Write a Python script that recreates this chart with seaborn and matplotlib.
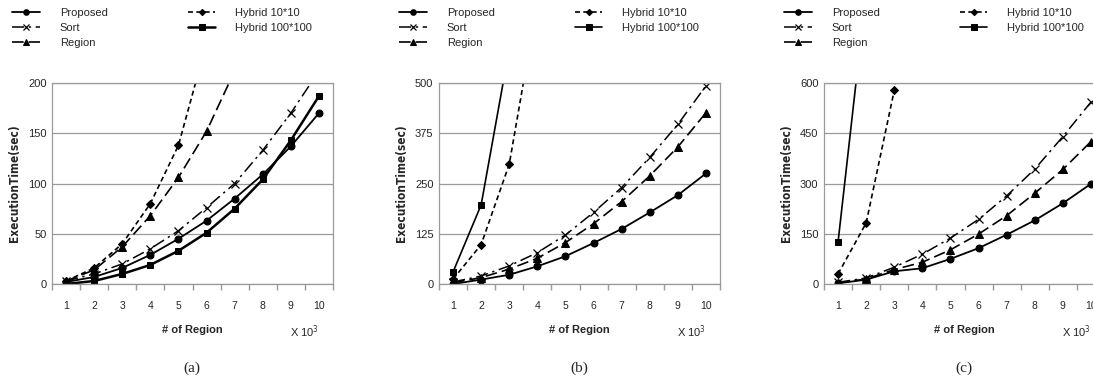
import matplotlib
matplotlib.use("Agg")
import matplotlib.pyplot as plt
import numpy as np
import pandas as pd
import seaborn as sns

sns.set_theme(style="white")
plt.rcParams["font.family"] = ["Liberation Sans", "DejaVu Sans"]
plt.rcParams["font.stretch"] = "condensed"

nan = np.nan
regions = [1, 2, 3, 4, 5, 6, 7, 8, 9, 10]

a_proposed = [2, 7, 16, 29, 45, 63, 85, 109, 137, 170]
a_sort = [3, 10, 20, 35, 53, 76, 100, 133, 170, 212]
a_region = [3, 14, 37, 68, 106, 152, 212, nan, nan, nan]
a_hybrid10 = [3, 16, 40, 80, 138, 240, nan, nan, nan, nan]
a_hybrid100 = [0, 3, 10, 19, 33, 51, 75, 104, 143, 187]

b_proposed = [0, 11, 23, 44, 69, 102, 137, 178, 221, 275]
b_sort = [5, 20, 45, 78, 122, 178, 240, 315, 397, 493]
b_region = [3, 16, 37, 64, 103, 150, 205, 269, 341, 426]
b_hybrid10 = [12, 98, 298, 700, nan, nan, nan, nan, nan, nan]
b_hybrid100 = [30, 197, 585, nan, nan, nan, nan, nan, nan, nan]

c_proposed = [2, 13, 38, 47, 75, 107, 147, 190, 241, 299]
c_sort = [5, 18, 50, 89, 137, 193, 263, 343, 440, 543]
c_region = [3, 15, 43, 65, 102, 149, 204, 271, 342, 425]
c_hybrid10 = [30, 182, 578, 1400, nan, nan, nan, nan, nan, nan]
c_hybrid100 = [125, 870, nan, nan, nan, nan, nan, nan, nan, nan]

labels = ["Proposed", "Sort", "Region", "Hybrid 10*10", "Hybrid 100*100"]

# line look for each method
styles = {
    "Proposed": dict(marker="o", ms=5, lw=1.3, dashes=None),
    "Sort": dict(marker="x", ms=6, lw=1.1, dashes=(8, 3, 1.5, 3)),
    "Region": dict(marker="^", ms=6, lw=1.2, dashes=(7, 3)),
    "Hybrid 10*10": dict(marker="D", ms=4, lw=1.2, dashes=(3, 2)),
    "Hybrid 100*100": dict(marker="s", ms=5, lw=1.8, dashes=None),
}

W, H = 1093, 385
fig = plt.figure(figsize=(W / 100, H / 100), dpi=100)


def draw_panel(left_px, series, ymax, letter, h100_lw):
    ax = fig.add_axes([left_px / W, 1 - 284 / H, 281 / W, 201 / H])
    for name, vals in zip(labels, series):
        df = pd.DataFrame({"region": regions, "time": vals}).dropna()
        st = styles[name]
        lw = h100_lw if name == "Hybrid 100*100" else st["lw"]
        sns.lineplot(data=df, x="region", y="time", ax=ax, color="black",
                     marker=st["marker"], markersize=st["ms"], lw=lw,
                     markeredgecolor="black", label=name, legend=False)
        ln = ax.get_lines()[-1]
        if st["dashes"] is not None:
            ln.set_dashes(st["dashes"])
        if name == "Sort":
            ln.set_markeredgewidth(0.9)
    ax.set_xlim(0.5, 10.5)
    ax.set_ylim(0, ymax)
    yt = np.linspace(0, ymax, 5)
    ax.set_yticks(yt)
    ax.set_yticklabels([f"{v:g}" for v in yt], fontsize=8)
    ax.set_xticks(regions)
    ax.set_xticklabels([str(r) for r in regions], fontsize=7.5)
    ax.set_xticks(np.arange(0.5, 11, 1), minor=True)
    ax.tick_params(axis="x", which="major", length=0, pad=12)
    ax.tick_params(axis="x", which="minor", length=4, color="#999999",
                   direction="out", bottom=True)
    ax.tick_params(axis="y", length=0, pad=4)
    ax.grid(axis="y", color="#9a9a9a", lw=0.9)
    ax.set_axisbelow(True)
    for sp in ax.spines.values():
        sp.set_color("#9a9a9a")
        sp.set_linewidth(0.9)
    ax.set_xlabel("")
    ax.set_ylabel("ExecutionTime(sec)", fontsize=8.5, fontweight="bold",
                  family=["DejaVu Sans"], labelpad=5)
    cx = (left_px + 140) / W
    fig.text(cx, 1 - 330 / H, "# of Region", ha="center", va="center",
             fontsize=8, fontweight="bold")
    fig.text((left_px + 238) / W, 1 - 332 / H, r"X 10$^3$", ha="left",
             va="center", fontsize=8)
    fig.text(cx, 1 - 368 / H, f"({letter})", ha="center", va="center",
             fontsize=11, family=["Liberation Serif"])
    handles = ax.get_lines()[:5]
    fig.legend(handles, labels, loc="upper left",
               bbox_to_anchor=((left_px - 40) / W, 1 - 8 / H),
               ncol=2, frameon=False, fontsize=8, handlelength=2.5,
               handletextpad=1.8, columnspacing=7.2, labelspacing=0.45,
               borderpad=0, borderaxespad=0, markerscale=0.8)
    return ax


draw_panel(52, [a_proposed, a_sort, a_region, a_hybrid10, a_hybrid100], 200, "a", 1.8)
draw_panel(439, [b_proposed, b_sort, b_region, b_hybrid10, b_hybrid100], 500, "b", 1.2)
draw_panel(824, [c_proposed, c_sort, c_region, c_hybrid10, c_hybrid100], 600, "c", 1.2)

fig.savefig("out.png", dpi=100)
